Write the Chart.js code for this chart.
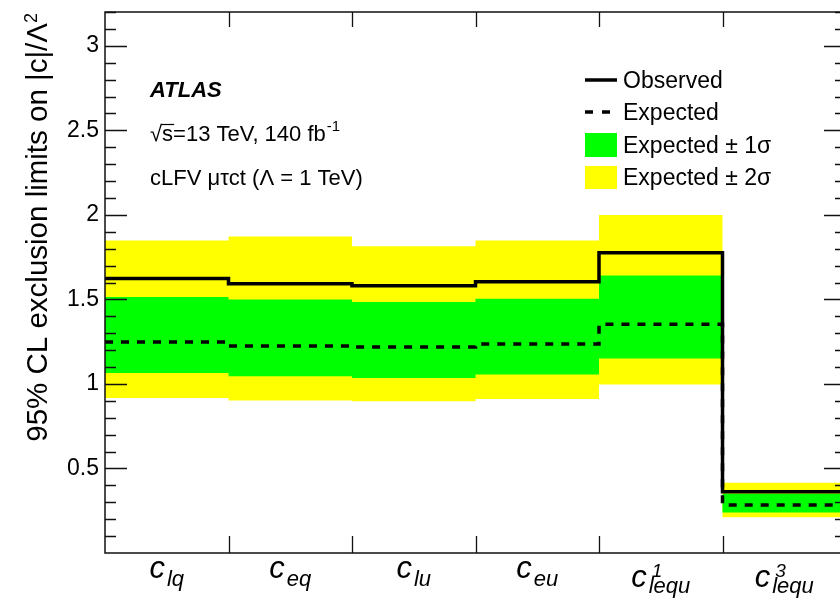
<!DOCTYPE html>
<html>
<head>
<meta charset="utf-8">
<script src="https://cdn.jsdelivr.net/npm/chart.js@4"></script>
<style>
  html, body { margin: 0; padding: 0; background: #fff; overflow: hidden; }
</style>
</head>
<body>
<canvas id="limits" width="870" height="604"></canvas>
<script>
// Wilson coefficients (base "c", subscript, superscript)
const catSub = ["lq", "eq", "lu", "eu", "lequ", "lequ"];
const catSup = ["", "", "", "", "1", "3"];

// 95% CL upper limits on |c|/Lambda^2
const observed = [1.623, 1.593, 1.581, 1.605, 1.776, 0.362];
const expected = [1.248, 1.224, 1.219, 1.236, 1.353, 0.284];
const sigma1Lo = [1.065, 1.045, 1.035, 1.056, 1.150, 0.240];
const sigma1Hi = [1.514, 1.500, 1.484, 1.504, 1.642, 0.351];
const sigma2Lo = [0.917, 0.902, 0.898, 0.911, 0.996, 0.211];
const sigma2Hi = [1.849, 1.872, 1.815, 1.849, 2.000, 0.415];

const yTickLabels = ["0.5", "1", "1.5", "2", "2.5", "3"];
const yMax = 3.2;

const GREEN = "#00ff00";
const YELLOW = "#ffff00";
const SANS = "'Liberation Sans', Arial, Helvetica, sans-serif";

// histogram-style steps: a point at each bin's left edge plus the last edge
function steps(vals) {
    const pts = vals.map(function (v, i) { return { x: i, y: v }; });
    pts.push({ x: vals.length, y: vals[vals.length - 1] });
    return pts;
}

// frame, inward ticks, labels and annotations
const decorPlugin = {
    id: "decor",
    afterDraw: function (chart) {
        const ctx = chart.ctx;
        const xs = chart.scales.x;
        const ys = chart.scales.y;
        const a = chart.chartArea;
        ctx.save();

        // frame
        ctx.strokeStyle = "#111";
        ctx.lineWidth = 1.5;
        ctx.strokeRect(a.left, a.top, a.right - a.left, a.bottom - a.top);

        // y ticks on both sides
        ctx.lineWidth = 1.3;
        ctx.beginPath();
        for (let k = 1; k <= 32; k++) {
            const py = Math.round(ys.getPixelForValue(k / 10)) + 0.5;
            const len = (k % 5 === 0) ? 22 : 11;
            ctx.moveTo(a.left, py); ctx.lineTo(a.left + len, py);
            ctx.moveTo(a.right, py); ctx.lineTo(a.right - len, py);
        }
        // x ticks at bin edges
        for (let i = 1; i < catSub.length; i++) {
            const px = Math.round(xs.getPixelForValue(i)) + 0.5;
            ctx.moveTo(px, a.top); ctx.lineTo(px, a.top + 15);
            ctx.moveTo(px, a.bottom); ctx.lineTo(px, a.bottom - 17);
        }
        ctx.stroke();

        // y tick labels
        ctx.fillStyle = "#000";
        ctx.font = "23px " + SANS;
        ctx.textAlign = "right";
        ctx.textBaseline = "middle";
        yTickLabels.forEach(function (t) {
            ctx.fillText(t, a.left - 6, ys.getPixelForValue(parseFloat(t)));
        });

        // y axis title, aligned to the top of the axis
        ctx.save();
        ctx.translate(47, a.top);
        ctx.rotate(-Math.PI / 2);
        ctx.textBaseline = "alphabetic";
        ctx.font = "18px " + SANS;
        const w2 = ctx.measureText("2").width;
        ctx.textAlign = "left";
        ctx.fillText("2", -w2 - 1, -10);
        ctx.font = "29.5px " + SANS;
        ctx.textAlign = "right";
        ctx.fillText("95% CL exclusion limits on |c|/\u039b", -w2 - 1, 0);
        ctx.restore();

        // category labels; those with a superscript sit a little lower
        ctx.textAlign = "left";
        ctx.textBaseline = "alphabetic";
        for (let i = 0; i < catSub.length; i++) {
            const hasSup = catSup[i] !== "";
            const base = hasSup ? 587 : 578;
            ctx.font = "italic 31px " + SANS;
            const wc = ctx.measureText("c").width;
            ctx.font = "italic 22px " + SANS;
            const ws = ctx.measureText(catSub[i]).width;
            ctx.font = "italic 19px " + SANS;
            const wu = hasSup ? ctx.measureText(catSup[i]).width + 3 : 0;
            const total = wc + 2 + Math.max(ws, wu);
            const x0 = xs.getPixelForValue(i + 0.5) - total / 2;
            ctx.font = "italic 31px " + SANS;
            ctx.fillText("c", x0, base);
            ctx.font = "italic 22px " + SANS;
            ctx.fillText(catSub[i], x0 + wc + 2, base + (hasSup ? 6 : 8));
            if (hasSup) {
                ctx.font = "italic 19px " + SANS;
                ctx.fillText(catSup[i], x0 + wc + 5, base - 10);
            }
        }

        // experiment label
        ctx.font = "bold italic 22px " + SANS;
        ctx.fillText("ATLAS", 150, 97);
        ctx.font = "22px " + SANS;
        ctx.fillText("\u221as=13 TeV, 140 fb", 150, 141);
        const wRoot = ctx.measureText("\u221a").width;
        const wS = ctx.measureText("\u221as").width;
        const wl = ctx.measureText("\u221as=13 TeV, 140 fb").width;
        // bar over the s of the square root
        ctx.strokeStyle = "#000";
        ctx.lineWidth = 1.2;
        ctx.beginPath();
        ctx.moveTo(150 + wRoot - 1, 124.5);
        ctx.lineTo(150 + wS + 1, 124.5);
        ctx.stroke();
        ctx.font = "15px " + SANS;
        ctx.fillText("-1", 150 + wl + 1, 131);
        ctx.font = "22px " + SANS;
        ctx.fillText("cLFV \u03bc\u03c4ct (\u039b = 1 TeV)", 150, 185);

        // legend
        ctx.lineWidth = 3.5;
        ctx.beginPath();
        ctx.moveTo(585, 80); ctx.lineTo(617, 80);
        ctx.stroke();
        ctx.setLineDash([8, 9]);
        ctx.beginPath();
        ctx.moveTo(585, 112); ctx.lineTo(617, 112);
        ctx.stroke();
        ctx.setLineDash([]);
        ctx.fillStyle = GREEN;
        ctx.fillRect(585, 133, 32, 24);
        ctx.fillStyle = YELLOW;
        ctx.fillRect(585, 166, 32, 23);
        ctx.fillStyle = "#000";
        ctx.font = "23px " + SANS;
        ctx.fillText("Observed", 623, 88);
        ctx.fillText("Expected", 623, 120);
        ctx.fillText("Expected \u00b1 1\u03c3", 623, 153);
        ctx.fillText("Expected \u00b1 2\u03c3", 623, 185);

        ctx.restore();
    }
};

function lineSet(vals, opts) {
    return Object.assign({
        data: steps(vals),
        stepped: "before",
        pointRadius: 0,
        borderWidth: 0,
        borderColor: "rgba(0,0,0,0)",
        fill: false
    }, opts);
}

window.addEventListener("load", function () {
    new Chart(document.getElementById("limits"), {
        type: "line",
        data: {
            datasets: [
                lineSet(observed, { label: "Observed", borderColor: "#000", borderWidth: 3.5 }),
                lineSet(expected, { label: "Expected", borderColor: "#000", borderWidth: 3.5, borderDash: [8, 8] }),
                lineSet(sigma1Hi, { label: "Expected \u00b1 1\u03c3", fill: "+1", backgroundColor: GREEN }),
                lineSet(sigma1Lo, { label: "1 sigma low" }),
                lineSet(sigma2Hi, { label: "Expected \u00b1 2\u03c3", fill: "+1", backgroundColor: YELLOW }),
                lineSet(sigma2Lo, { label: "2 sigma low" })
            ]
        },
        options: {
            responsive: false,
            animation: false,
            layout: { padding: { left: 105, top: 12, right: 24, bottom: 51 } },
            scales: {
                x: { type: "linear", min: 0, max: catSub.length, display: false },
                y: { min: 0, max: yMax, display: false }
            },
            plugins: {
                legend: { display: false },
                tooltip: { enabled: false }
            }
        },
        plugins: [decorPlugin]
    });
});
</script>
</body>
</html>
